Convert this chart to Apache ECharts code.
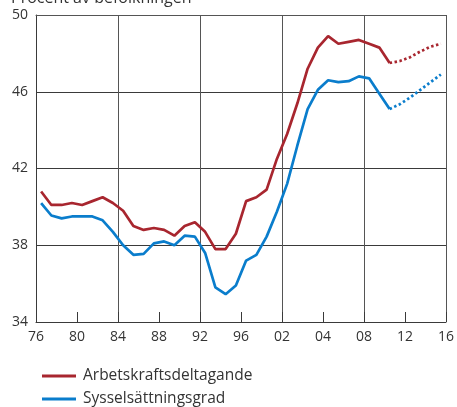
<!DOCTYPE html>
<html>
<head>
<meta charset="utf-8">
<script src="https://cdn.jsdelivr.net/npm/echarts@6/dist/echarts.min.js"></script>
<style>
html,body{margin:0;padding:0;background:#fff;}
#chart{width:457px;height:407px;}
</style>
</head>
<body>
<div id="chart"></div>
<script>
//årtal, 1976-2015 (punkter ritas mitt i året)
var years = [];
for (var y = 1976; y <= 2015; y++) years.push(y);

//tick-etiketter på x-axeln (76, 80, ... 16)
var xTickLabels = ["76","80","84","88","92","96","02","04","08","12","16"];

//Arbetskraftsdeltagande, utfall 1976-2010
var arbetskraft = [
	40.8, 40.1, 40.1, 40.2, 40.1, 40.3, 40.5, 40.2, 39.8, 39.0,
	38.8, 38.9, 38.8, 38.5, 39.0, 39.2, 38.7, 37.8, 37.8, 38.6,
	40.3, 40.5, 40.9, 42.5, 43.8, 45.4, 47.2, 48.3, 48.9, 48.5,
	48.6, 48.7, 48.5, 48.3, 47.5
];
//Arbetskraftsdeltagande, prognos 2010-2015
var arbetskraftPrognos = [47.5, 47.6, 47.8, 48.1, 48.35, 48.5];

//Sysselsättningsgrad, utfall 1976-2010
var syssel = [
	40.2, 39.55, 39.4, 39.5, 39.5, 39.5, 39.3, 38.7, 38.0, 37.5,
	37.55, 38.1, 38.2, 38.0, 38.5, 38.45, 37.6, 35.8, 35.45, 35.9,
	37.2, 37.5, 38.45, 39.75, 41.2, 43.2, 45.1, 46.1, 46.6, 46.5,
	46.55, 46.8, 46.7, 45.9, 45.1
];
//Sysselsättningsgrad, prognos 2010-2015
var sysselPrognos = [45.1, 45.35, 45.7, 46.1, 46.5, 46.9];

var yTicks = [34, 38, 42, 46, 50];

var red = '#a8262f';
var blue = '#0a7dcc';
var gridColor = '#3a3a3a';

function toPoints(vals, startYear){
	var pts = [];
	for (var i in vals) {
		pts.push([startYear + Number(i) + 0.5, vals[i]]);
	}
	return pts;
}

var option = {
	backgroundColor: '#fff',
	animation: false,
	textStyle: {fontFamily: 'Open Sans'},
	title: {
		text: 'Procent av befolkningen',
		left: 6,
		top: -15,
		textStyle: {fontSize: 16, fontWeight: 'normal', color: '#333', fontFamily: 'Open Sans'}
	},
	legend: {
		orient: 'vertical',
		left: 37,
		top: 363,
		height: 80,
		itemWidth: 34,
		itemHeight: 3,
		itemGap: 7,
		icon: 'rect',
		textStyle: {fontSize: 15.5, color: '#333', fontFamily: 'Open Sans', padding: [0, 0, 0, 2]},
		data: ['Arbetskraftsdeltagande', 'Sysselsättningsgrad']
	},
	grid: {left: 36, right: 10, top: 15, bottom: 85},
	xAxis: [{
		type: 'value',
		min: years[0],
		max: 2016,
		interval: 4,
		axisLine: {show: true, lineStyle: {color: gridColor, width: 1}},
		axisTick: {show: true, inside: true, length: 10, lineStyle: {color: gridColor}},
		axisLabel: {
			fontSize: 14, color: '#333', margin: 8,
			formatter: function(v){ return xTickLabels[Math.round((v - years[0]) / 4)]; }
		},
		splitLine: {show: false}
	}, {
		type: 'value',
		position: 'top',
		min: years[0],
		max: 2016,
		interval: 8,
		axisLine: {show: true, lineStyle: {color: '#555', width: 1}},
		axisTick: {show: false},
		axisLabel: {show: false},
		splitLine: {show: true, lineStyle: {color: '#555', width: 1}}
	}],
	yAxis: {
		type: 'value',
		min: yTicks[0],
		max: yTicks[yTicks.length - 1],
		interval: 4,
		axisLine: {show: true, lineStyle: {color: gridColor, width: 1}},
		axisTick: {show: false},
		axisLabel: {fontSize: 14, color: '#333', margin: 8},
		splitLine: {show: true, lineStyle: {color: gridColor, width: 1}}
	},
	series: [{
		name: 'Arbetskraftsdeltagande',
		type: 'line',
		symbol: 'none',
		color: red,
		lineStyle: {width: 2.7, color: red},
		data: toPoints(arbetskraft, years[0])
	}, {
		name: 'Arbetskraftsdeltagande',
		type: 'line',
		symbol: 'none',
		color: red,
		lineStyle: {width: 2.7, color: red, type: [2.5, 2.5]},
		data: toPoints(arbetskraftPrognos, 2010)
	}, {
		name: 'Sysselsättningsgrad',
		type: 'line',
		symbol: 'none',
		color: blue,
		lineStyle: {width: 2.7, color: blue},
		data: toPoints(syssel, years[0])
	}, {
		name: 'Sysselsättningsgrad',
		type: 'line',
		symbol: 'none',
		color: blue,
		lineStyle: {width: 2.7, color: blue, type: [2.5, 2.5]},
		data: toPoints(sysselPrognos, 2010)
	}]
};

var myChart = echarts.init(document.getElementById('chart'));
myChart.setOption(option, true);
</script>
</body>
</html>
